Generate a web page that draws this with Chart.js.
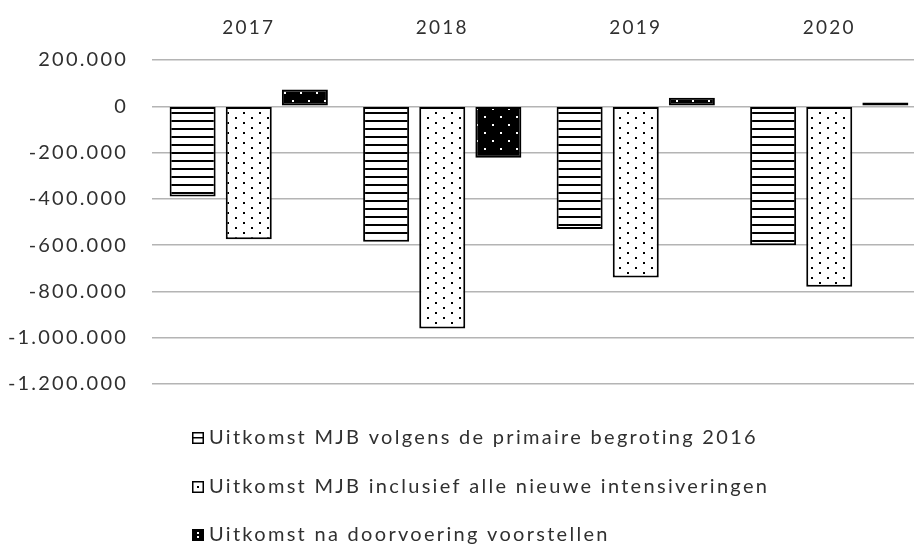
<!DOCTYPE html>
<html>
<head>
<meta charset="utf-8">
<script src="https://cdn.jsdelivr.net/npm/chart.js@4/dist/chart.umd.min.js"></script>
<style>
  html, body { margin: 0; padding: 0; background: #fff; overflow: hidden; }
  #wrap { width: 926px; height: 545px; }
</style>
</head>
<body>
<div id="wrap"><canvas id="myChart" width="926" height="545"></canvas></div>
<script>
// data
var years = ['2017', '2018', '2019', '2020'];
var seriesNames = [
    'Uitkomst MJB volgens de primaire begroting 2016',
    'Uitkomst MJB inclusief alle nieuwe intensiveringen',
    'Uitkomst na doorvoering voorstellen'
];
var primaire = [-390000, -585000, -530000, -600000];
var intensiveringen = [-575000, -960000, -740000, -780000];
var voorstellen = [72000, -222000, 37000, 16000];
var yMin = -1200000;
var yMax = 200000;
var yStep = 200000;

var textColor = '#303030';

function makeTile(w, h, draw) {
    var c = document.createElement('canvas');
    c.width = w;
    c.height = h;
    draw(c.getContext('2d'));
    return document.getElementById('myChart').getContext('2d').createPattern(c, 'repeat');
}

// horizontal lines
var stripes = makeTile(8, 8, function(t) {
    t.fillStyle = '#fff';
    t.fillRect(0, 0, 8, 8);
    t.fillStyle = '#000';
    t.fillRect(0, 0, 8, 2);
});
// small black dots on white
var dots = makeTile(16, 10, function(t) {
    t.fillStyle = '#fff';
    t.fillRect(0, 0, 16, 10);
    t.fillStyle = '#000';
    t.fillRect(3, 2, 2, 2);
    t.fillRect(11, 7, 2, 2);
});
// white dots on black
var darkDots = makeTile(16, 16, function(t) {
    t.fillStyle = '#000';
    t.fillRect(0, 0, 16, 16);
    t.fillStyle = '#fff';
    t.fillRect(4, 4, 2, 2);
    t.fillRect(12, 12, 2, 2);
});

function formatNL(v) {
    var s = String(Math.abs(v)).replace(/\B(?=(\d{3})+(?!\d))/g, '.');
    return (v < 0 ? '-' : '') + s;
}

// spaced-out text like the original
var spacing = {
    id: 'spacing',
    beforeDraw: function(chart) {
        chart.ctx.letterSpacing = '2.2px';
    }
};

// legend drawn as a plain list below the plot
var listLegend = {
    id: 'listLegend',
    afterDraw: function(chart) {
        var ctx = chart.ctx;
        var rows = [438, 487, 535];
        ctx.save();
        ctx.font = '20px Lato';
        ctx.letterSpacing = '2.3px';
        ctx.textBaseline = 'middle';
        ctx.textAlign = 'left';
        for (i = 0; i < chart.data.datasets.length; i++) {
            var y = rows[i];
            var bx = 192, by = y - 6, s = 12;
            ctx.fillStyle = i == 2 ? '#000' : '#fff';
            ctx.fillRect(bx, by, s, s);
            ctx.strokeStyle = '#000';
            ctx.lineWidth = 1.5;
            ctx.strokeRect(bx + 0.75, by + 0.75, s - 1.5, s - 1.5);
            if (i == 0) {
                ctx.fillStyle = '#000';
                ctx.fillRect(bx, by + 5, s, 1.5);
            } else if (i == 1) {
                ctx.fillStyle = '#000';
                ctx.fillRect(bx + 5, by + 5, 2, 2);
            } else {
                ctx.fillStyle = '#fff';
                ctx.fillRect(bx + 5, by + 3, 2, 2);
                ctx.fillRect(bx + 5, by + 7, 2, 2);
            }
            ctx.fillStyle = textColor;
            ctx.fillText(chart.data.datasets[i].label, 209, y);
        }
        ctx.restore();
    }
};

var ctx = document.getElementById('myChart').getContext('2d');
var chart = new Chart(ctx, {
    type: 'bar',
    data: {
        labels: years,
        datasets: [{
            label: seriesNames[0],
            data: primaire,
            backgroundColor: stripes,
            borderColor: '#000',
            borderWidth: 2,
            borderSkipped: false
        }, {
            label: seriesNames[1],
            data: intensiveringen,
            backgroundColor: dots,
            borderColor: '#000',
            borderWidth: 2,
            borderSkipped: false
        }, {
            label: seriesNames[2],
            data: voorstellen,
            backgroundColor: darkDots,
            borderColor: '#000',
            borderWidth: 2,
            borderSkipped: false
        }]
    },
    options: {
        responsive: false,
        animation: false,
        categoryPercentage: 0.87,
        barPercentage: 0.82,
        layout: {
            padding: { top: 0, right: 0, bottom: 161, left: 0 }
        },
        plugins: {
            legend: { display: false },
            tooltip: { enabled: false }
        },
        scales: {
            x: {
                position: 'top',
                afterFit: function(scale) { scale.height = 60; },
                grid: { display: false, drawTicks: false },
                border: { display: false },
                ticks: {
                    padding: 21,
                    color: textColor,
                    font: { family: 'Lato', size: 19 }
                }
            },
            y: {
                min: yMin,
                max: yMax,
                afterFit: function(scale) { scale.width = 152; },
                grid: { color: '#b4b4b4', lineWidth: 1.5, drawTicks: false },
                border: { display: false },
                ticks: {
                    stepSize: yStep,
                    padding: 24,
                    color: textColor,
                    font: { family: 'Lato', size: 20 },
                    callback: function(v) { return formatNL(v); }
                }
            }
        }
    },
    plugins: [spacing, listLegend]
});
</script>
</body>
</html>
